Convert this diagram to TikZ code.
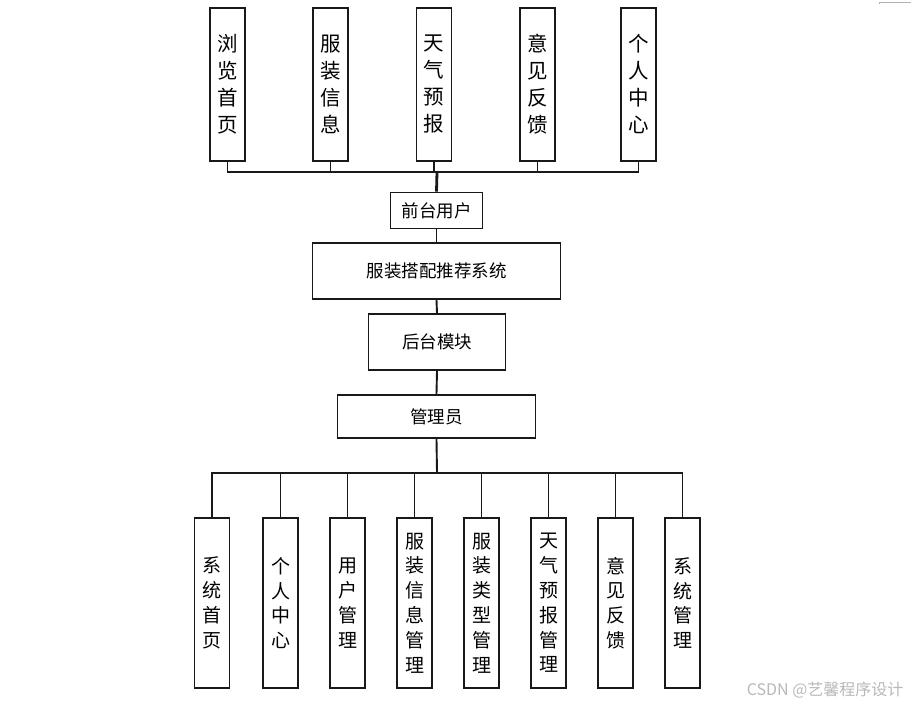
\documentclass[tikz,border=0pt]{standalone}
\usepackage{fontspec}
\setmainfont{Noto Sans CJK SC}
\usetikzlibrary{positioning}

\begin{document}
\begin{tikzpicture}[
  x=1pt, y={(0pt,-1pt)},
  vbox/.style   = {draw=black!90, line width=1.9pt, fill=white,
                   minimum width=35pt, inner sep=0pt, align=center},
  topbox/.style = {vbox, minimum height=153pt,
                   font=\fontsize{20.5}{27}\selectfont},
  subbox/.style = {vbox, minimum height=170pt,
                   font=\fontsize{19}{24.8}\selectfont},
  hbox/.style   = {draw=black!90, line width=1.9pt, fill=white,
                   inner sep=0pt, font=\fontsize{17.5}{20}\selectfont},
  link/.style   = {line width=1.9pt, draw=black!90},
  trunk/.style  = {line width=2.8pt, draw=black!90},
]
\useasboundingbox (0,0) rectangle (911,705);

% front-end functions
\node[topbox] (browse)  at (227.5,84.5) {浏\\览\\首\\页};
\node[topbox] (clothes) at (330.5,84.5) {服\\装\\信\\息};
\node[topbox] (weather) at (434,84.5)   {天\\气\\预\\报};
\node[topbox] (advice)  at (537.5,84.5) {意\\见\\反\\馈};
\node[topbox] (person)  at (638.5,84.5) {个\\人\\中\\心};

% main column
\node[hbox, minimum width=92pt,  minimum height=36pt] (front)  at (436.5,210.5) {前台用户};
\node[hbox, minimum width=248pt, minimum height=56pt] (system) at (436.5,271)   {服装搭配推荐系统};
\node[hbox, minimum width=137pt, minimum height=56pt] (back)   at (437,342)     {后台模块};
\node[hbox, minimum width=198pt, minimum height=43pt] (admin)  at (436.5,416.5) {管理员};

% back-end functions
\node[subbox] (home)    at (212,603)   {系\\统\\首\\页};
\node[subbox] (center)  at (280.5,603) {个\\人\\中\\心};
\node[subbox] (users)   at (347.5,603) {用\\户\\管\\理};
\node[subbox] (info)    at (414.5,603) {服\\装\\信\\息\\管\\理};
\node[subbox] (types)   at (481.5,603) {服\\装\\类\\型\\管\\理};
\node[subbox] (fcast)   at (548.5,603) {天\\气\\预\\报\\管\\理};
\node[subbox] (feedb)   at (615.5,603) {意\\见\\反\\馈};
\node[subbox] (sysman)  at (682.5,603) {系\\统\\管\\理};

% top bus
\coordinate (topbus) at (437,172);
\draw[link] (browse.south) |- (topbus) -| (person.south);
\foreach \n in {clothes, weather, advice}
  \draw[link] (\n.south) -- (\n.south |- topbus);
\draw[trunk] (topbus) -- (front.north);

% column links
\draw[link] (front.south)  -- (system.north);
\draw[link] (system.south) -- (back.north);
\draw[link] (back.south)   -- (admin.north);

% bottom bus
\coordinate (subbus) at (437,473);
\draw[link] (admin.south) -- (subbus);
\draw[link] (home.north) |- (subbus) -| (sysman.north);
\foreach \n in {center, users, info, types, fcast, feedb}
  \draw[link] (\n.north) -- (\n.north |- subbus);

% watermark
\node[anchor=east, text=black!28, font=\fontsize{16}{18}\selectfont] (mark) at (907,690) {CSDN @艺馨程序设计};
\draw[black!30, line width=0.8pt] (879,4) -- (879,2) -- (911,2);

\end{tikzpicture}
\end{document}
